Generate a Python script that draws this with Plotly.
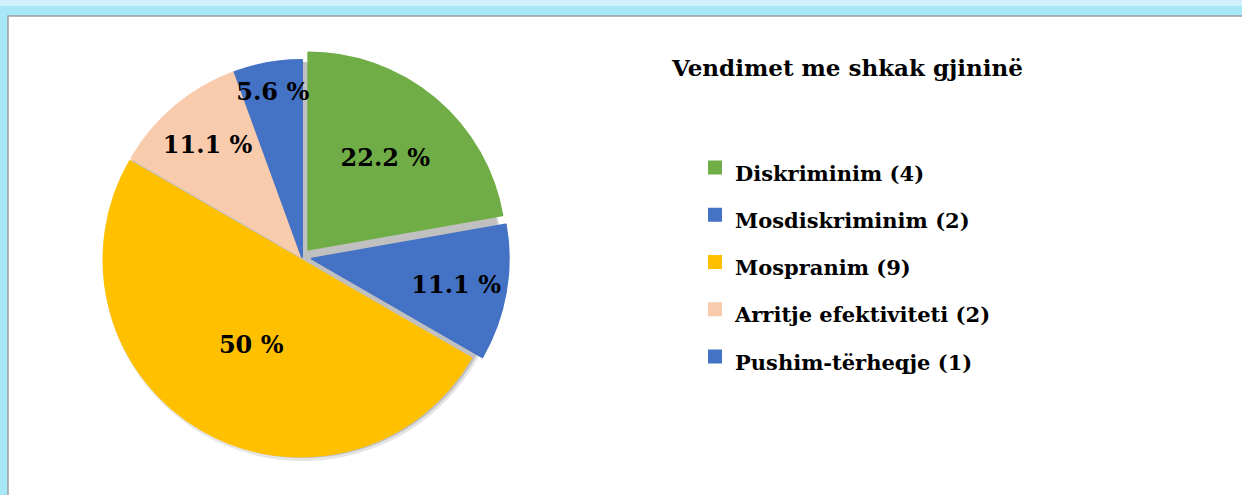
import plotly.graph_objects as go

# ---- data ----
categories = ["Diskriminim", "Mosdiskriminim", "Mospranim", "Arritje efektiviteti", "Pushim-tërheqje"]
counts = [4, 2, 9, 2, 1]
colors = ["#70AD47", "#4472C4", "#FFC000", "#F8CBAD", "#4472C4"]
pulls = [0.05, 0.05, 0.015, 0.0, 0.0]
title_text = "Vendimet me shkak gjininë"

W, H = 1242, 495
total = sum(counts)
pct_text = [f"{round(c / total * 100, 1):g} %" for c in counts]
legend_labels = [f'<span style="font-size:21px">{n} ({c})</span>' for n, c in zip(categories, counts)]

FONT = "DejaVu Serif"

# pie geometry (page pixels)
cx, cy, R = 302, 257, 197
half = R * (1 + max(pulls))


def px(x):
    return x / W


def py(y):
    return 1 - y / H


fig = go.Figure()
fig.add_trace(go.Pie(
    labels=legend_labels,
    values=counts,
    text=pct_text,
    textinfo="text",
    textposition="inside",
    insidetextorientation="horizontal",
    sort=False,
    direction="clockwise",
    rotation=0,
    pull=pulls,
    marker=dict(colors=colors, line=dict(color=colors, width=2)),
    textfont=dict(family=FONT, size=24, color="black", weight="bold"),
    hoverinfo="label+value+percent",
    domain=dict(x=[px(cx - half), px(cx + half)], y=[py(cy + half), py(cy - half)]),
))

shapes = [
    # light top band gradient
    dict(type="rect", xref="paper", yref="paper", x0=-0.01, x1=1.01, y0=py(6), y1=1.01,
         fillcolor="#d2f2fb", line=dict(width=0), layer="below"),
    # white inner panel
    dict(type="rect", xref="paper", yref="paper", x0=px(8), x1=1.02, y0=-0.02, y1=py(16),
         fillcolor="white", line=dict(color="#9f9f9f", width=1.5), layer="below"),
    # soft shadow under the pie
    dict(type="circle", xref="paper", yref="paper",
         x0=px(cx - R - 2), x1=px(cx + R + 4), y0=py(cy + R + 7), y1=py(cy - R + 2),
         fillcolor="rgba(0,0,0,0.10)", line=dict(width=0), layer="below"),
    dict(type="circle", xref="paper", yref="paper",
         x0=px(cx - R), x1=px(cx + R + 2), y0=py(cy + R + 4), y1=py(cy - R + 2),
         fillcolor="rgba(0,0,0,0.16)", line=dict(width=0), layer="below"),
]

fig.update_layout(
    width=W, height=H,
    margin=dict(l=0, r=0, t=0, b=0),
    paper_bgcolor="#a8e7f7",
    plot_bgcolor="white",
    shapes=shapes,
    uniformtext=dict(minsize=24, mode="show"),
    title=dict(text=title_text, x=px(672), xanchor="left", xref="paper",
               y=py(68), yanchor="middle", yref="paper",
               font=dict(family=FONT, size=23, color="black", weight="bold")),
    showlegend=True,
    legend=dict(x=px(695), xanchor="left", y=py(139), yanchor="top",
                font=dict(family=FONT, size=34, color="black", weight="bold"),
                bgcolor="rgba(0,0,0,0)"),
)

fig.write_html("out.html", config={"displayModeBar": False},
               post_script="document.body.style.margin='0';")
